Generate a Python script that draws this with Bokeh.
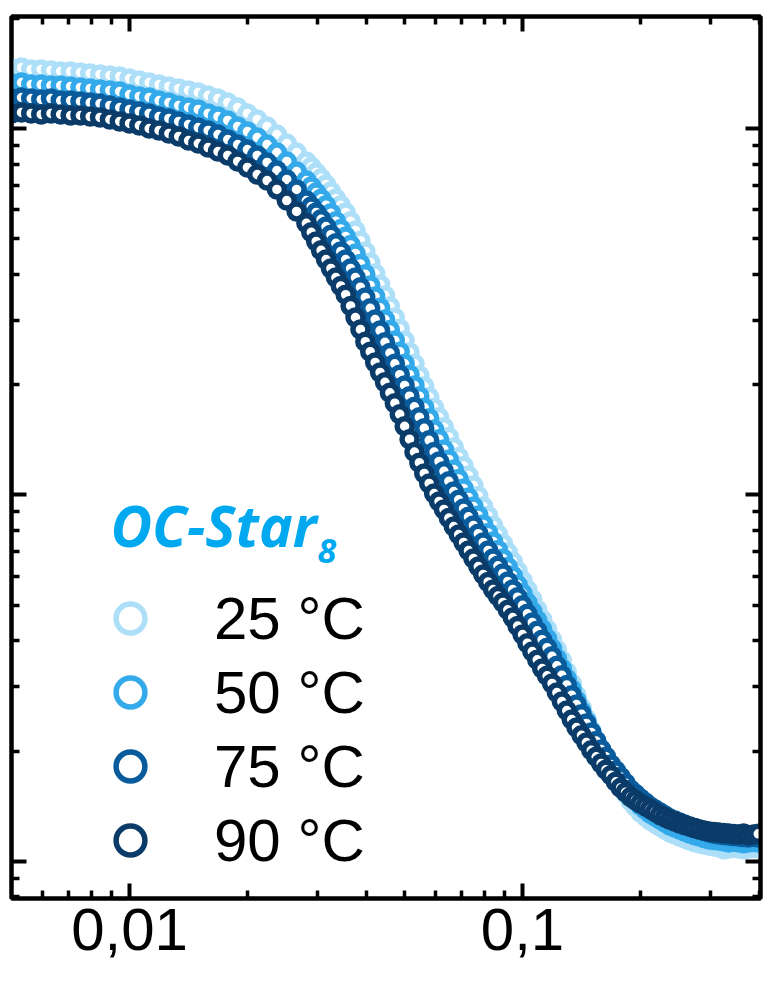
from bokeh.plotting import figure
from bokeh.models import LogAxis, FixedTicker, Legend, LegendItem, Label, Range1d, ColumnDataSource
from bokeh.embed import file_html
from bokeh.resources import INLINE

# ---- data ----
q = [0.00501, 0.00531, 0.00562, 0.00596, 0.00631, 0.00668, 0.00708, 0.00750, 0.00794, 0.00841,
     0.00891, 0.00944, 0.01000, 0.01059, 0.01122, 0.01189, 0.01259, 0.01334, 0.01413, 0.01496,
     0.01585, 0.01679, 0.01778, 0.01884, 0.01995, 0.02113, 0.02239, 0.02371, 0.02512, 0.02661,
     0.02818,
     0.02900, 0.02985, 0.03072, 0.03162, 0.03254, 0.03350, 0.03448, 0.03548, 0.03652, 0.03758,
     0.03868, 0.03981, 0.04097, 0.04217, 0.04340, 0.04467, 0.04597, 0.04732, 0.04870, 0.05012,
     0.05158, 0.05309, 0.05464, 0.05623, 0.05788, 0.05957, 0.06131, 0.06310, 0.06494, 0.06683,
     0.06879, 0.07079, 0.07286, 0.07499, 0.07718, 0.07943, 0.08175, 0.08414, 0.08660, 0.08913,
     0.09173, 0.09441, 0.09716, 0.1000, 0.1029, 0.1059, 0.1090, 0.1122, 0.1155, 0.1189,
     0.1223, 0.1259, 0.1296, 0.1334, 0.1372, 0.1413, 0.1454, 0.1496, 0.1540, 0.1585,
     0.1631, 0.1679, 0.1728, 0.1778, 0.1830, 0.1884, 0.1939, 0.1995, 0.2054, 0.2113,
     0.2175, 0.2239, 0.2304, 0.2371, 0.2441, 0.2512, 0.2585, 0.2661, 0.2738, 0.2818,
     0.2901, 0.2985, 0.3073, 0.3162, 0.3255, 0.3350, 0.3448, 0.3548, 0.3652, 0.3758,
     0.3868, 0.3981]

I_25C = [14.58, 14.67, 14.49, 14.49, 14.40, 14.31, 14.31, 14.22, 14.13, 14.04,
         13.95, 13.86, 13.69, 13.52, 13.35, 13.18, 13.02, 12.86, 12.70, 12.54,
         12.30, 12.07, 11.77, 11.41, 10.99, 10.58, 10.13, 9.63, 9.10, 8.60,
         8.13,
         7.86, 7.59, 7.31, 7.03, 6.73, 6.44, 6.17, 5.90, 5.58, 5.27,
         4.94, 4.62, 4.31, 4.02, 3.75, 3.50, 3.27, 3.05, 2.84, 2.64,
         2.45, 2.28, 2.12, 1.98, 1.85, 1.73, 1.63, 1.53, 1.44, 1.35,
         1.27, 1.20, 1.13, 1.062, 0.994, 0.930, 0.877, 0.826, 0.780, 0.737,
         0.697, 0.658, 0.620, 0.584, 0.551, 0.519, 0.487, 0.457, 0.430, 0.403,
         0.378, 0.354, 0.329, 0.306, 0.284, 0.263, 0.245, 0.228, 0.214, 0.200,
         0.188, 0.177, 0.168, 0.160, 0.153, 0.146, 0.141, 0.1360, 0.1326, 0.1294,
         0.1270, 0.1246, 0.1222, 0.1199, 0.1184, 0.1170, 0.1155, 0.1141, 0.1130, 0.1120,
         0.1113, 0.1106, 0.1099, 0.1092, 0.1080, 0.1085, 0.1091, 0.1085, 0.1079, 0.1085,
         0.1088, 0.1092]

I_50C = [13.27, 13.35, 13.18, 13.18, 13.10, 13.10, 13.02, 12.94, 12.86, 12.78,
         12.70, 12.62, 12.38, 12.23, 12.15, 11.92, 11.77, 11.56, 11.41, 11.27,
         10.99, 10.78, 10.52, 10.13, 9.81, 9.45, 9.04, 8.60, 8.13, 7.63,
         7.21,
         6.95, 6.69, 6.43, 6.17, 5.87, 5.58, 5.32, 5.07, 4.81, 4.56,
         4.27, 4.00, 3.73, 3.48, 3.24, 3.01, 2.82, 2.64, 2.46, 2.28,
         2.13, 1.99, 1.86, 1.73, 1.62, 1.51, 1.42, 1.33, 1.25, 1.174,
         1.106, 1.042, 0.985, 0.930, 0.879, 0.831, 0.788, 0.747, 0.708, 0.671,
         0.636, 0.603, 0.570, 0.539, 0.509, 0.481, 0.455, 0.430, 0.405, 0.381,
         0.358, 0.336, 0.315, 0.295, 0.275, 0.257, 0.241, 0.226, 0.213, 0.201,
         0.190, 0.1805, 0.1722, 0.1643, 0.1577, 0.1514, 0.1467, 0.1422, 0.1386, 0.1352,
         0.1326, 0.1302, 0.1278, 0.1254, 0.1238, 0.1223, 0.1207, 0.1192, 0.1181, 0.1170,
         0.1159, 0.1148, 0.1145, 0.1141, 0.1134, 0.1127, 0.1133, 0.1127, 0.1121, 0.1127,
         0.1130, 0.1127]

I_75C = [12.07, 12.15, 12.07, 12.00, 12.07, 11.92, 11.92, 11.85, 11.77, 11.70,
         11.56, 11.41, 11.27, 11.13, 10.99, 10.78, 10.65, 10.45, 10.26, 10.06,
         9.88, 9.63, 9.33, 9.04, 8.76, 8.44, 8.08, 7.68, 7.26, 6.82,
         6.36,
         6.13, 5.90, 5.65, 5.40, 5.13, 4.86, 4.62, 4.39, 4.15, 3.92,
         3.69, 3.46, 3.23, 3.01, 2.81, 2.61, 2.44, 2.28, 2.13, 1.99,
         1.86, 1.74, 1.63, 1.52, 1.41, 1.31, 1.235, 1.16, 1.09, 1.022,
         0.970, 0.919, 0.872, 0.826, 0.784, 0.742, 0.706, 0.671, 0.641, 0.611,
         0.581, 0.552, 0.526, 0.500, 0.474, 0.449, 0.426, 0.403, 0.383, 0.363,
         0.342, 0.322, 0.303, 0.284, 0.268, 0.252, 0.238, 0.225, 0.213, 0.202,
         0.193, 0.184, 0.177, 0.170, 0.1635, 0.157, 0.1527, 0.1485, 0.1449, 0.1413,
         0.1386, 0.1360, 0.1335, 0.1310, 0.1294, 0.1278, 0.1262, 0.1246, 0.1234, 0.1223,
         0.1211, 0.1199, 0.1191, 0.1184, 0.1180, 0.1177, 0.1173, 0.1170, 0.1166, 0.1162,
         0.1168, 0.1162]

I_90C = [10.99, 11.06, 10.99, 10.92, 10.99, 10.92, 10.85, 10.85, 10.78, 10.72,
         10.58, 10.45, 10.32, 10.19, 10.00, 9.88, 9.69, 9.51, 9.27, 9.10,
         8.87, 8.65, 8.44, 8.13, 7.83, 7.49, 7.21, 6.82, 6.36, 5.94,
         5.51,
         5.21, 4.92, 4.65, 4.39, 4.15, 3.92, 3.72, 3.52, 3.28, 3.05,
         2.83, 2.62, 2.46, 2.30, 2.16, 2.03, 1.90, 1.78, 1.66, 1.54,
         1.42, 1.31, 1.225, 1.145, 1.075, 1.009, 0.960, 0.913, 0.865, 0.820,
         0.780, 0.742, 0.705, 0.671, 0.638, 0.607, 0.579, 0.552, 0.530, 0.509,
         0.486, 0.463, 0.439, 0.416, 0.394, 0.374, 0.355, 0.336, 0.321, 0.306,
         0.289, 0.273, 0.258, 0.244, 0.232, 0.221, 0.211, 0.201, 0.193, 0.185,
         0.178, 0.172, 0.165, 0.159, 0.1545, 0.150, 0.147, 0.144, 0.1415, 0.139,
         0.1365, 0.134, 0.132, 0.130, 0.1285, 0.127, 0.1258, 0.1246, 0.1234, 0.1223,
         0.1215, 0.1207, 0.1203, 0.1199, 0.1195, 0.1192, 0.1188, 0.1184, 0.1192, 0.1177,
         0.1185, 0.1190]

series_labels = ["25 \u00b0C", "50 \u00b0C", "75 \u00b0C", "90 \u00b0C"]
series_colors = ["#addff9", "#35aaea", "#0a5b9c", "#0b3c69"]
series_values = [I_25C, I_50C, I_75C, I_90C]

x_major = [0.01, 0.1]
x_minor = [0.005, 0.006, 0.007, 0.008, 0.009,
           0.02, 0.03, 0.04, 0.05, 0.06, 0.07, 0.08, 0.09,
           0.2, 0.3, 0.4]
x_tick_labels = {0.01: "0,01", 0.1: "0,1"}
y_major = [0.1, 1.0, 10.0]
y_minor = [0.08, 0.09, 0.2, 0.3, 0.4, 0.5, 0.6, 0.7, 0.8, 0.9,
           2, 3, 4, 5, 6, 7, 8, 9, 20]

title_main = "OC-Star"
title_sub = "8"

# ---- figure ----
p = figure(width=774, height=974, x_axis_type="log", y_axis_type="log",
           x_range=Range1d(0.005007, 0.4033), y_range=Range1d(0.07924, 20.21),
           output_backend="svg", toolbar_location=None,
           min_border_left=11, min_border_right=14, min_border_top=16, min_border_bottom=76)
p.grid.visible = False
p.background_fill_color = "white"
p.border_fill_color = "white"
p.outline_line_color = "black"
p.outline_line_width = 4

def style_axis(ax, labels=False):
    ax.axis_line_width = 4
    ax.axis_line_color = "black"
    ax.major_tick_in = 15
    ax.major_tick_out = 0
    ax.minor_tick_in = 8
    ax.minor_tick_out = 0
    ax.major_tick_line_width = 4
    ax.minor_tick_line_width = 3.5
    ax.major_tick_line_color = "black"
    ax.minor_tick_line_color = "black"
    if labels:
        ax.major_label_text_font = "Liberation Sans"
        ax.major_label_text_font_size = "60px"
        ax.major_label_text_color = "black"
        ax.major_label_standoff = 10
    else:
        ax.major_label_text_font_size = "1px"
        ax.major_label_text_alpha = 0
        ax.major_label_standoff = 0

bx = p.xaxis[0]
bx.ticker = FixedTicker(ticks=x_major, minor_ticks=x_minor)
bx.major_label_overrides = x_tick_labels
style_axis(bx, labels=True)

ly = p.yaxis[0]
ly.ticker = FixedTicker(ticks=y_major, minor_ticks=y_minor)
style_axis(ly)

top = LogAxis(ticker=FixedTicker(ticks=x_major, minor_ticks=x_minor))
style_axis(top)
p.add_layout(top, "above")
right = LogAxis(ticker=FixedTicker(ticks=y_major, minor_ticks=y_minor))
style_axis(right)
p.add_layout(right, "right")

items = []
for lab, col, vals in zip(series_labels, series_colors, series_values):
    src = ColumnDataSource(dict(q=q, I=vals))
    r = p.scatter("q", "I", source=src, marker="circle", size=15, line_width=5.5,
                  line_color=col, fill_color="white")
    items.append(LegendItem(label=lab, renderers=[r]))

legend = Legend(items=items, location=(83, 21), orientation="vertical",
                glyph_width=72, glyph_height=74, label_standoff=48,
                padding=0, spacing=0, margin=0,
                background_fill_alpha=0, border_line_color=None,
                label_text_font="Liberation Sans", label_text_font_size="60px",
                label_text_color="black")
p.add_layout(legend)

p.add_layout(Label(x=99, y=374, x_units="screen", y_units="screen", text=title_main,
                   text_font="Open Sans", text_font_style="bold italic", text_font_size="57px",
                   text_color="#00a9ef", text_baseline="alphabetic"))
p.add_layout(Label(x=306, y=348, x_units="screen", y_units="screen", text=title_sub,
                   text_font="Open Sans", text_font_style="bold italic", text_font_size="34px",
                   text_color="#00a9ef", text_baseline="alphabetic"))

open("out.html", "w").write(file_html(p, INLINE))
